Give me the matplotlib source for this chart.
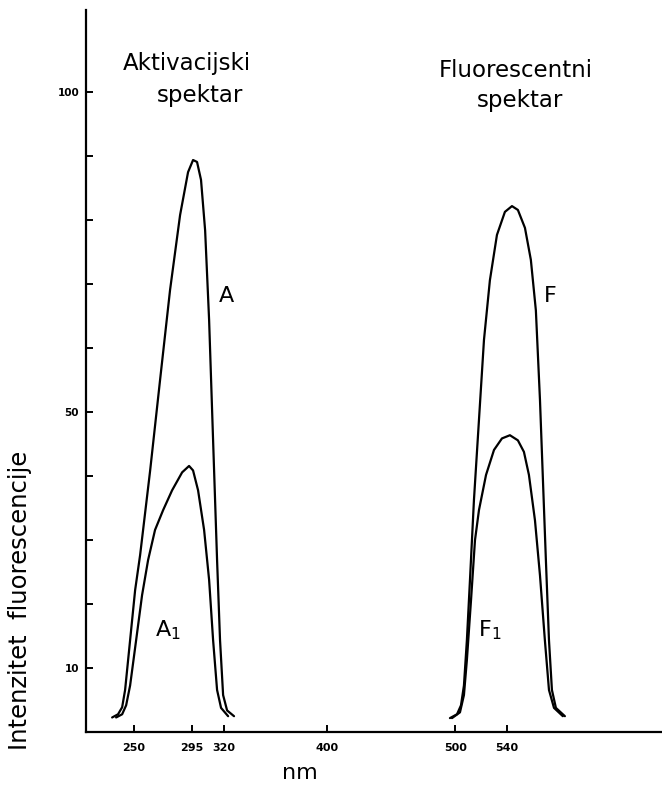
import matplotlib.pyplot as plt

# wavelengths (nm) and relative fluorescence intensity
a_nm = [232.9, 237.5, 240.7, 243.0, 246.9, 250.8, 254.7, 262.5, 270.2, 278.0,
        285.8, 292.0, 295.9, 299.0, 302.1, 305.3, 308.4, 311.5, 314.6, 316.9,
        319.3, 322.4, 327.8]
a_int = [2.3, 2.8, 3.9, 6.6, 14.4, 22.2, 27.7, 40.9, 55.0, 69.1,
         80.8, 87.5, 89.4, 89.1, 86.3, 78.4, 64.4, 45.6, 26.9, 14.4,
         5.8, 3.4, 2.5]

a1_nm = [236.0, 240.7, 243.8, 246.9, 251.6, 256.2, 260.9, 266.3, 272.6, 279.6,
         287.4, 292.8, 295.9, 299.8, 304.5, 308.4, 311.5, 314.6, 317.7, 323.2]
a1_int = [2.3, 2.8, 4.2, 7.3, 14.4, 21.4, 26.9, 31.6, 34.7, 37.8,
          40.6, 41.6, 40.9, 37.8, 31.6, 23.8, 14.4, 6.6, 3.8, 2.5]

f_nm = [495.9, 501.4, 504.5, 506.8, 509.1, 511.5, 514.6, 518.5, 522.4, 527.0,
        532.5, 538.7, 544.2, 548.8, 554.3, 558.9, 562.8, 566.0, 568.3, 570.6,
        573.0, 575.3, 578.4, 585.4]
f_int = [2.2, 2.8, 4.2, 7.3, 14.4, 23.8, 36.3, 48.8, 61.3, 70.6,
         77.7, 81.3, 82.2, 81.6, 78.8, 73.8, 65.9, 51.9, 39.4, 26.9,
         14.4, 6.6, 3.8, 2.5]

f1_nm = [497.5, 503.7, 506.8, 509.1, 512.3, 515.4, 518.5, 524.0, 530.2, 536.4,
         542.6, 548.8, 553.5, 557.4, 562.1, 566.0, 569.8, 573.0, 576.9, 583.8]
f1_int = [2.2, 3.1, 5.8, 11.3, 20.6, 30.0, 34.7, 40.2, 44.1, 45.9,
          46.4, 45.6, 43.8, 40.2, 33.1, 24.5, 14.4, 6.6, 3.8, 2.5]

x_ticks = [250, 295, 320, 400, 500, 540]
y_ticks = [10, 20, 30, 40, 50, 60, 70, 80, 90, 100]
y_labels = ["10", "", "", "", "50", "", "", "", "", "100"]

fig = plt.figure(figsize=(6.62, 7.89), dpi=100)
ax = fig.add_axes([0.130, 0.072, 0.870, 0.915])

line_kw = dict(color="black", lw=1.6, solid_joinstyle="round", solid_capstyle="round")
for xs, ys in [(a_nm, a_int), (a1_nm, a1_int), (f_nm, f_int), (f1_nm, f1_int)]:
    ax.plot(xs, ys, **line_kw)

ax.set_xlim(212.6, 661)
ax.set_ylim(0, 112.8)

for side in ("top", "right"):
    ax.spines[side].set_visible(False)
for side in ("left", "bottom"):
    ax.spines[side].set_linewidth(1.6)

ax.set_xticks(x_ticks)
ax.set_xticklabels([str(t) for t in x_ticks], fontsize=8, fontweight="bold")
ax.set_yticks(y_ticks)
ax.set_yticklabels(y_labels, fontsize=7.5, fontweight="bold")
ax.tick_params(axis="both", direction="in", length=5, width=1.4)
ax.tick_params(axis="x", pad=8)
ax.tick_params(axis="y", pad=5)

ax.set_xlabel("nm", fontsize=16)
ax.xaxis.set_label_coords(0.372, -0.043)
ax.set_ylabel("Intenzitet  fluorescencije", fontsize=17.5)
ax.yaxis.set_label_coords(-0.093, 0.183)

title_kw = dict(fontsize=16.5, ha="center", va="center")
ax.text(291.2, 104.5, "Aktivacijski", **title_kw)
ax.text(301.4, 99.5, "spektar", **title_kw)
ax.text(547.3, 103.4, "Fluorescentni", **title_kw)
ax.text(550.4, 98.75, "spektar", **title_kw)

lab_kw = dict(fontsize=16, ha="center", va="center")
ax.text(322, 68.2, "A", **lab_kw)
ax.text(276, 15.9, "A$_1$", **lab_kw)
ax.text(574, 68.2, "F", **lab_kw)
ax.text(527, 16.0, "F$_1$", **lab_kw)

fig.savefig("out.png", dpi=100, facecolor="white")
